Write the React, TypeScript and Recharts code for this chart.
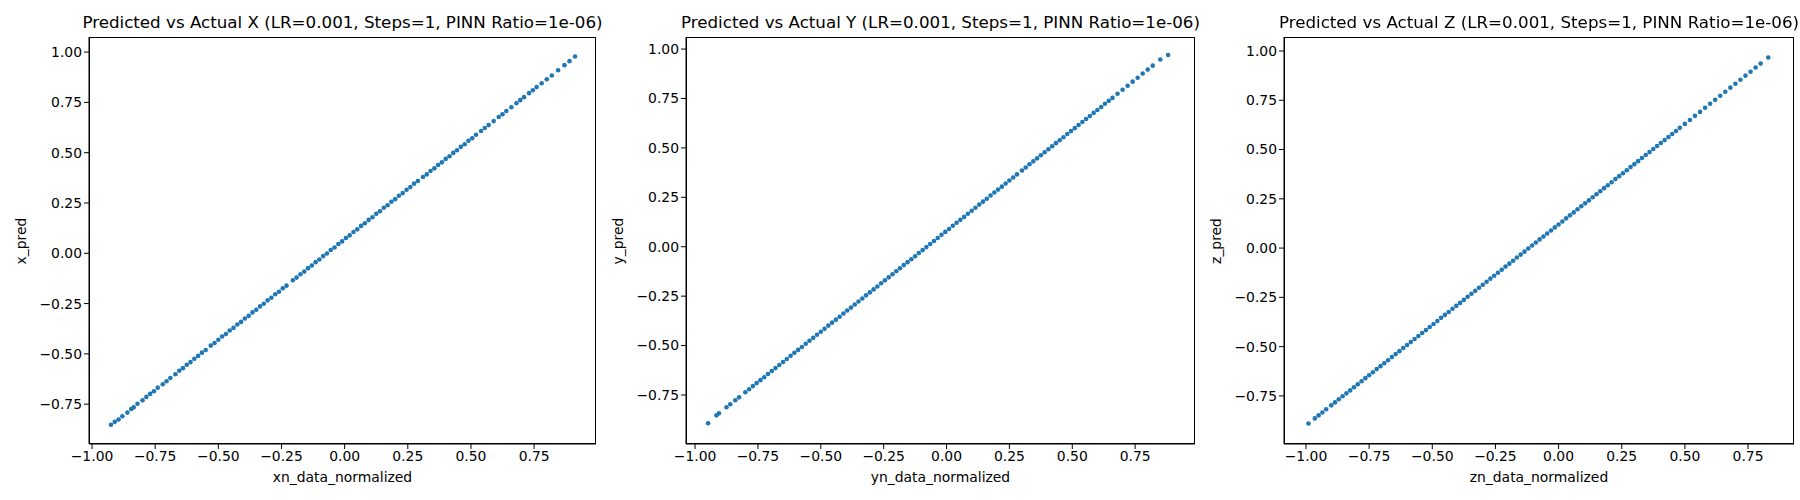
import React from 'react';
import { ScatterChart, Scatter, XAxis, YAxis } from 'recharts';

const xTicks = [-1, -0.75, -0.5, -0.25, 0, 0.25, 0.5, 0.75];
const yTicks = [-0.75, -0.5, -0.25, 0, 0.25, 0.5, 0.75, 1];

const xPanel1 = [-0.925,-0.91,-0.895,-0.88,-0.86,-0.845,-0.835,-0.82,-0.80,-0.785,-0.77,-0.755,-0.74,-0.72,-0.705,-0.69,-0.67,-0.655,-0.64,-0.625,-0.61,-0.595,-0.58,-0.565,-0.55,-0.53,-0.515,-0.50,-0.485,-0.47,-0.455,-0.44,-0.425,-0.41,-0.395,-0.38,-0.365,-0.35,-0.335,-0.32,-0.305,-0.29,-0.275,-0.26,-0.245,-0.23,-0.205,-0.19,-0.175,-0.16,-0.145,-0.13,-0.115,-0.10,-0.085,-0.07,-0.055,-0.04,-0.025,-0.01,0.005,0.02,0.035,0.05,0.065,0.08,0.095,0.11,0.125,0.14,0.155,0.17,0.185,0.20,0.215,0.23,0.245,0.26,0.275,0.29,0.31,0.325,0.34,0.355,0.37,0.385,0.40,0.415,0.43,0.445,0.46,0.475,0.49,0.505,0.52,0.54,0.555,0.57,0.59,0.61,0.625,0.64,0.66,0.68,0.695,0.71,0.73,0.745,0.76,0.78,0.80,0.82,0.845,0.87,0.89,0.912];
const yPanel1 = [-0.852,-0.838,-0.826,-0.81,-0.792,-0.774,-0.766,-0.748,-0.731,-0.714,-0.699,-0.686,-0.668,-0.651,-0.636,-0.62,-0.601,-0.584,-0.571,-0.554,-0.541,-0.524,-0.51,-0.494,-0.481,-0.459,-0.446,-0.43,-0.414,-0.401,-0.384,-0.371,-0.354,-0.341,-0.324,-0.311,-0.294,-0.281,-0.264,-0.251,-0.234,-0.221,-0.204,-0.191,-0.174,-0.161,-0.134,-0.121,-0.104,-0.091,-0.074,-0.061,-0.044,-0.031,-0.014,-0.001,0.016,0.029,0.046,0.059,0.076,0.089,0.106,0.119,0.136,0.149,0.166,0.179,0.196,0.209,0.226,0.239,0.256,0.269,0.286,0.299,0.316,0.329,0.346,0.359,0.379,0.392,0.409,0.422,0.439,0.452,0.469,0.482,0.499,0.512,0.529,0.542,0.559,0.572,0.589,0.608,0.623,0.637,0.657,0.677,0.691,0.707,0.726,0.746,0.761,0.776,0.796,0.81,0.826,0.845,0.865,0.884,0.91,0.935,0.955,0.978];

const xPanel2 = [-0.948,-0.915,-0.905,-0.875,-0.86,-0.84,-0.825,-0.80,-0.785,-0.77,-0.755,-0.74,-0.725,-0.71,-0.695,-0.68,-0.665,-0.65,-0.635,-0.62,-0.605,-0.59,-0.575,-0.56,-0.545,-0.53,-0.515,-0.50,-0.485,-0.47,-0.455,-0.44,-0.425,-0.41,-0.395,-0.38,-0.365,-0.35,-0.335,-0.32,-0.305,-0.29,-0.275,-0.26,-0.245,-0.23,-0.215,-0.20,-0.185,-0.17,-0.155,-0.14,-0.125,-0.11,-0.095,-0.08,-0.065,-0.05,-0.035,-0.02,-0.005,0.01,0.025,0.04,0.055,0.07,0.085,0.10,0.115,0.13,0.145,0.16,0.175,0.19,0.205,0.22,0.235,0.25,0.265,0.28,0.30,0.315,0.33,0.345,0.36,0.375,0.39,0.405,0.42,0.435,0.45,0.465,0.48,0.495,0.51,0.525,0.54,0.555,0.57,0.585,0.60,0.615,0.63,0.645,0.66,0.68,0.70,0.72,0.74,0.76,0.78,0.80,0.82,0.85,0.881];
const yPanel2 = [-0.893,-0.853,-0.843,-0.812,-0.797,-0.777,-0.762,-0.736,-0.721,-0.705,-0.69,-0.675,-0.66,-0.644,-0.629,-0.614,-0.598,-0.583,-0.568,-0.552,-0.537,-0.522,-0.507,-0.491,-0.476,-0.461,-0.445,-0.43,-0.415,-0.399,-0.384,-0.369,-0.354,-0.338,-0.323,-0.308,-0.292,-0.277,-0.262,-0.246,-0.231,-0.216,-0.201,-0.185,-0.17,-0.155,-0.139,-0.124,-0.109,-0.093,-0.078,-0.063,-0.048,-0.032,-0.017,-0.002,0.014,0.029,0.044,0.06,0.075,0.09,0.106,0.121,0.136,0.151,0.167,0.182,0.197,0.213,0.228,0.243,0.259,0.274,0.289,0.304,0.32,0.335,0.35,0.366,0.386,0.401,0.417,0.432,0.447,0.463,0.478,0.493,0.508,0.524,0.539,0.554,0.57,0.585,0.6,0.616,0.631,0.646,0.661,0.677,0.692,0.707,0.723,0.738,0.753,0.774,0.794,0.814,0.835,0.855,0.876,0.896,0.916,0.947,0.97];

const xPanel3 = [-0.99,-0.965,-0.95,-0.935,-0.92,-0.90,-0.885,-0.87,-0.855,-0.84,-0.825,-0.81,-0.795,-0.78,-0.765,-0.75,-0.735,-0.72,-0.705,-0.69,-0.675,-0.66,-0.645,-0.63,-0.615,-0.60,-0.585,-0.57,-0.555,-0.54,-0.525,-0.51,-0.495,-0.48,-0.465,-0.45,-0.435,-0.42,-0.405,-0.39,-0.375,-0.36,-0.345,-0.33,-0.315,-0.30,-0.285,-0.27,-0.255,-0.24,-0.225,-0.21,-0.195,-0.18,-0.165,-0.15,-0.135,-0.12,-0.105,-0.09,-0.075,-0.06,-0.045,-0.03,-0.015,0.0,0.015,0.03,0.045,0.06,0.075,0.09,0.105,0.12,0.135,0.15,0.165,0.18,0.195,0.21,0.225,0.24,0.255,0.27,0.285,0.30,0.315,0.33,0.345,0.36,0.375,0.39,0.405,0.42,0.435,0.45,0.465,0.48,0.50,0.52,0.54,0.56,0.58,0.60,0.62,0.64,0.66,0.68,0.70,0.72,0.74,0.76,0.78,0.80,0.83];
const yPanel3 = [-0.89,-0.864,-0.849,-0.834,-0.818,-0.798,-0.783,-0.767,-0.752,-0.737,-0.722,-0.706,-0.691,-0.676,-0.66,-0.645,-0.63,-0.614,-0.599,-0.584,-0.569,-0.553,-0.538,-0.523,-0.507,-0.492,-0.477,-0.461,-0.446,-0.431,-0.416,-0.4,-0.385,-0.37,-0.354,-0.339,-0.324,-0.308,-0.293,-0.278,-0.263,-0.247,-0.232,-0.217,-0.201,-0.186,-0.171,-0.155,-0.14,-0.125,-0.11,-0.094,-0.079,-0.064,-0.048,-0.033,-0.018,-0.002,0.013,0.028,0.044,0.059,0.074,0.089,0.105,0.12,0.135,0.151,0.166,0.181,0.197,0.212,0.227,0.242,0.258,0.273,0.288,0.304,0.319,0.334,0.35,0.365,0.38,0.395,0.411,0.426,0.441,0.457,0.472,0.487,0.503,0.518,0.533,0.548,0.564,0.579,0.594,0.61,0.63,0.65,0.671,0.691,0.712,0.732,0.752,0.773,0.793,0.814,0.834,0.854,0.875,0.895,0.916,0.936,0.967];

const panels = [
  { title: 'Predicted vs Actual X (LR=0.001, Steps=1, PINN Ratio=1e-06)', xLabel: 'xn_data_normalized', yLabel: 'x_pred',
    xs: xPanel1, ys: yPanel1, left: 89, right: 596, xDomain: [-1.012, 0.995], yDomain: [-0.948, 1.075] },
  { title: 'Predicted vs Actual Y (LR=0.001, Steps=1, PINN Ratio=1e-06)', xLabel: 'yn_data_normalized', yLabel: 'y_pred',
    xs: xPanel2, ys: yPanel2, left: 686, right: 1195, xDomain: [-1.036, 0.988], yDomain: [-0.998, 1.061] },
  { title: 'Predicted vs Actual Z (LR=0.001, Steps=1, PINN Ratio=1e-06)', xLabel: 'zn_data_normalized', yLabel: 'z_pred',
    xs: xPanel3, ys: yPanel3, left: 1284, right: 1794, xDomain: [-1.087, 0.932], yDomain: [-0.994, 1.071] },
];

const TOP = 37;
const BOTTOM = 444;
const AXIS_W = 70;
const font = 'DejaVu Sans, sans-serif';
const fmt = (v: number) => v.toFixed(2).replace('-', '\u2212');
const tickStyle = { fontSize: 13.9, fill: '#000', fontFamily: font };

const Dot = (props: any) => <circle cx={props.cx} cy={props.cy} r={2.3} fill="#1f77b4" />;

function Panel({ p }: { p: (typeof panels)[number] }) {
  const data = p.xs.map((x, i) => ({ x, y: p.ys[i] }));
  const w = p.right - p.left;
  return (
    <>
      <div style={{ position: 'absolute', left: p.left - AXIS_W, top: 0 }}>
        <ScatterChart width={w + AXIS_W + 2} height={500} margin={{ top: TOP, right: 2, left: 0, bottom: 0 }}>
          <XAxis dataKey="x" type="number" domain={p.xDomain} ticks={xTicks} tickFormatter={fmt} allowDataOverflow
            height={500 - BOTTOM} tick={tickStyle} tickSize={5} stroke="#000" interval={0} />
          <YAxis dataKey="y" type="number" domain={p.yDomain} ticks={yTicks} tickFormatter={fmt} allowDataOverflow
            width={AXIS_W} tick={tickStyle} tickSize={5} stroke="#000" interval={0} />
          <Scatter data={data} shape={<Dot />} isAnimationActive={false} />
        </ScatterChart>
      </div>
      {/* axes frame, matplotlib style */}
      <div style={{ position: 'absolute', left: p.left, top: TOP, width: w, height: BOTTOM - TOP,
        border: '1px solid #000', boxSizing: 'border-box', pointerEvents: 'none' }} />
      <div style={{ position: 'absolute', left: p.left - 50, width: w + 100, top: 12, textAlign: 'center', fontSize: 16.7,
        fontFamily: font, whiteSpace: 'nowrap' }}>
        {p.title}
      </div>
      <div style={{ position: 'absolute', left: p.left, width: w, top: 469, textAlign: 'center', fontSize: 13.9, fontFamily: font }}>
        {p.xLabel}
      </div>
      <div style={{ position: 'absolute', left: p.left - 68, top: (TOP + BOTTOM) / 2, fontSize: 13.9, fontFamily: font,
        transform: 'translate(-50%, -50%) rotate(-90deg)', whiteSpace: 'nowrap' }}>
        {p.yLabel}
      </div>
    </>
  );
}

export default function App() {
  return (
    <div style={{ position: 'fixed', left: 0, top: 0, width: 1800, height: 500, background: '#fff' }}>
      {panels.map((p) => <Panel key={p.yLabel} p={p} />)}
    </div>
  );
}
